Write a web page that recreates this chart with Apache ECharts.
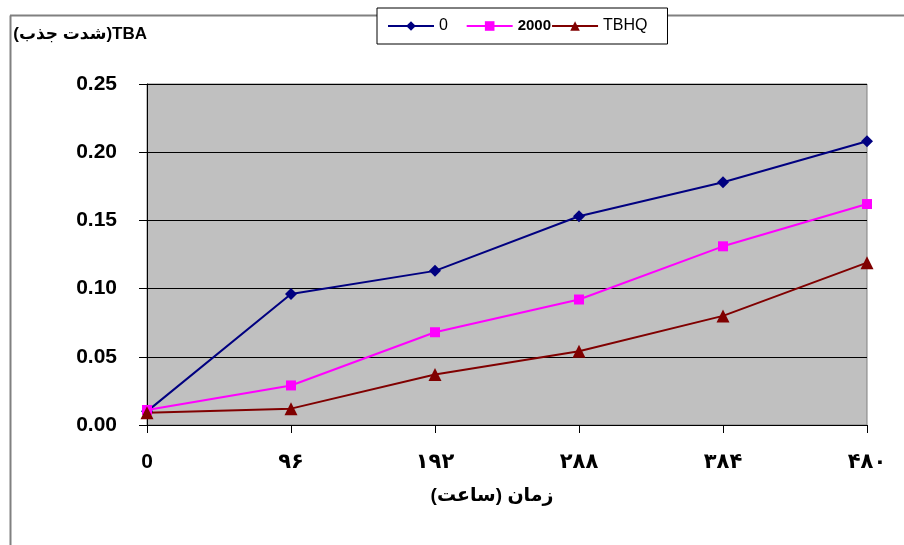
<!DOCTYPE html>
<html>
<head>
<meta charset="utf-8">
<script src="https://cdn.jsdelivr.net/npm/echarts@6/dist/echarts.min.js"></script>
<style>
  html, body { margin: 0; padding: 0; background: #fff; }
  #chart { width: 904px; height: 545px; }
</style>
</head>
<body>
<div id="chart"></div>
<script>
// Storage time (hours), shown with Persian digits
const hours = ['0', '۹۶', '۱۹۲', '۲۸۸', '۳۸۴', '۴۸۰'];
const seriesNames = ['0', '2000', 'TBHQ'];
// TBA absorbance for each treatment
const tbaControl = [0.010, 0.096, 0.113, 0.153, 0.178, 0.208];
const tba2000 = [0.011, 0.029, 0.068, 0.092, 0.131, 0.162];
const tbaTBHQ = [0.009, 0.012, 0.037, 0.054, 0.080, 0.119];
const yTicks = [0, 0.05, 0.10, 0.15, 0.20, 0.25];

const FONT = "'Liberation Sans', Arial, 'DejaVu Sans', sans-serif";
const RLE = '\u202B', PDF = '\u202C';

const chart = echarts.init(document.getElementById('chart'), null, { renderer: 'canvas' });

function lineSeries(name, data, color, symbol, size) {
  return {
    name: name,
    type: 'line',
    data: data,
    symbol: symbol,
    symbolSize: size,
    lineStyle: { color: color, width: 2 },
    itemStyle: { color: color },
    z: 3
  };
}

chart.setOption({
  animation: false,
  graphic: [
    { type: 'line', z: 0, shape: { x1: 10.5, y1: 15.5, x2: 10.5, y2: 545 },
      style: { stroke: '#808080', lineWidth: 2 } },
    { type: 'line', z: 0, shape: { x1: 10, y1: 15.5, x2: 904, y2: 15.5 },
      style: { stroke: '#808080', lineWidth: 2 } }
  ],
  legend: {
    left: 377,
    top: 8,
    padding: [10, 20, 10, 10],
    itemGap: 0,
    itemWidth: 46,
    itemHeight: 12,
    backgroundColor: '#ffffff',
    borderColor: '#000000',
    borderWidth: 1,
    borderRadius: 0,
    textStyle: { fontFamily: FONT, fontSize: 16, color: '#000' },
    // the first entry keeps extra room after its label
    formatter: function (name) { return name === '0' ? '0    ' : name; },
    data: [
      { name: '0' },
      { name: '2000', textStyle: { fontWeight: 'bold', fontSize: 15, padding: [0, 0, 3, 0] } },
      { name: 'TBHQ' }
    ]
  },
  grid: {
    left: 147,
    right: 37,
    top: 84,
    bottom: 120,
    show: true,
    backgroundColor: '#C0C0C0',
    borderColor: '#808080',
    borderWidth: 1
  },
  xAxis: {
    type: 'category',
    data: hours,
    boundaryGap: false,
    name: RLE + 'زمان (ساعت)' + PDF,
    nameLocation: 'middle',
    nameGap: 61,
    nameTextStyle: {
      fontFamily: FONT, fontSize: 19, fontWeight: 'bold', color: '#000',
      padding: [0, 30, 0, 0]
    },
    axisLine: { lineStyle: { color: '#000', width: 1 } },
    axisTick: { show: true, length: 8, alignWithLabel: true, lineStyle: { color: '#000' } },
    axisLabel: {
      margin: 27,
      fontFamily: FONT,
      fontSize: 21,
      fontWeight: 'bold',
      color: '#000',
      formatter: function (v) { return v; }
    },
    splitLine: { show: false }
  },
  yAxis: {
    type: 'value',
    min: yTicks[0],
    max: yTicks[yTicks.length - 1],
    interval: 0.05,
    name: RLE + 'TBA(شدت جذب)' + PDF,
    nameLocation: 'end',
    nameGap: 41,
    nameTextStyle: {
      fontFamily: FONT, fontSize: 17, fontWeight: 'bold', color: '#000',
      align: 'right', verticalAlign: 'bottom'
    },
    axisLine: { show: true, lineStyle: { color: '#000', width: 1 } },
    axisTick: { show: true, length: 8, lineStyle: { color: '#000' } },
    axisLabel: {
      margin: 30,
      fontFamily: FONT,
      fontSize: 21,
      fontWeight: 'bold',
      color: '#000',
      formatter: function (v) { return v.toFixed(2); }
    },
    splitLine: { show: true, lineStyle: { color: '#000', width: 1 } }
  },
  series: [
    lineSeries(seriesNames[0], tbaControl, '#000080', 'diamond', 12),
    lineSeries(seriesNames[1], tba2000, '#FF00FF', 'rect', 10),
    lineSeries(seriesNames[2], tbaTBHQ, '#800000', 'triangle', 13)
  ]
});
</script>
</body>
</html>
